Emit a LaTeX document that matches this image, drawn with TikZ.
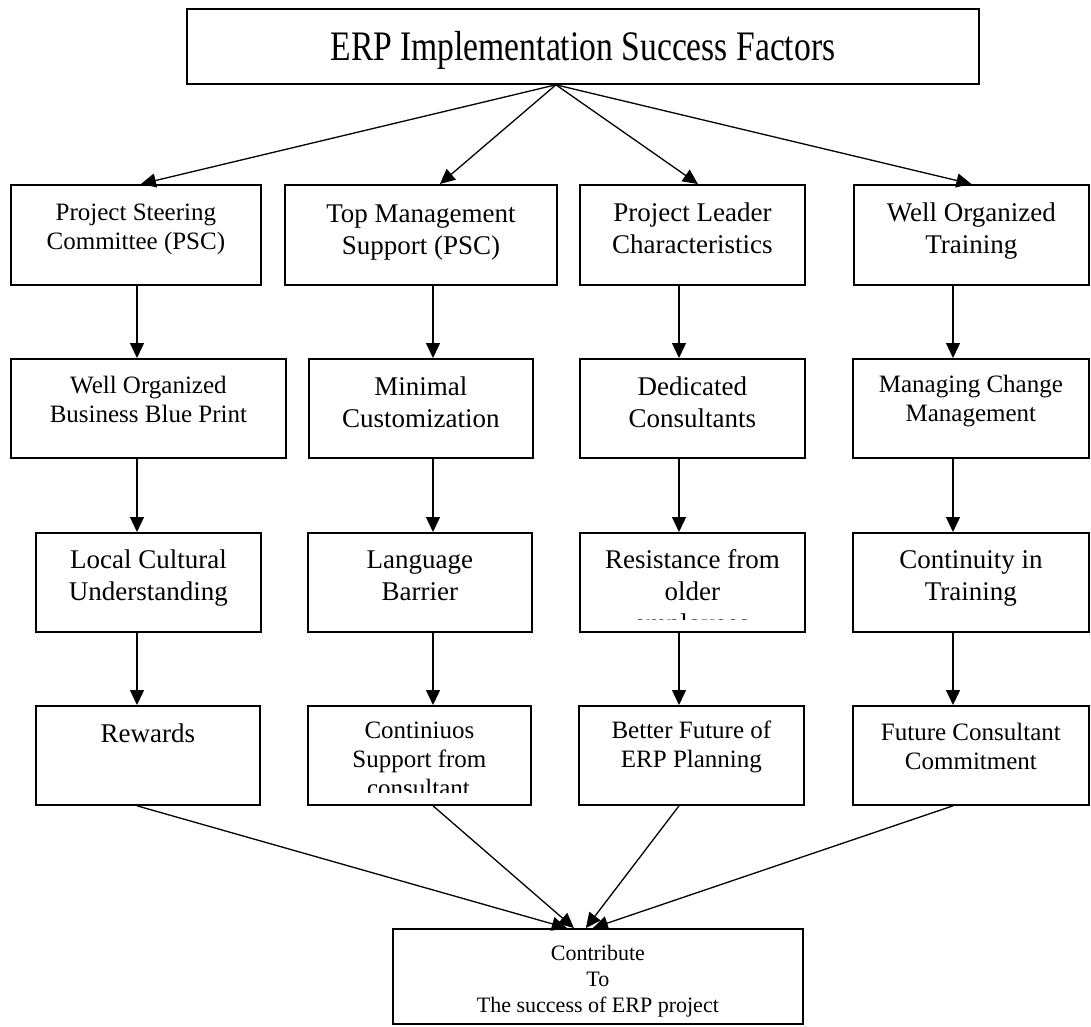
\documentclass[tikz,border=0pt]{standalone}
\usepackage{fontspec}
\setmainfont{Liberation Serif}
\newfontfamily\titlefont[FakeStretch=0.8]{Liberation Serif}
\usetikzlibrary{arrows.meta}

\begin{document}
\begin{tikzpicture}[
    x=1pt, y=-1pt,
    >={Triangle[width=14pt,length=15pt]},
    factor/.style={rectangle, draw, line width=1.8pt, inner sep=0pt, anchor=north west, align=flush center, font=\fontsize{27}{32}\selectfont},
    small/.style={font=\fontsize{25}{29}\selectfont},
    link/.style={->, line width=1.3pt}
]
    \useasboundingbox (0,0) rectangle (1091,1026);

    \node[factor, text width=792pt, text height=52pt, text depth=23pt, font=\titlefont\fontsize{42}{46}\selectfont] (title) at (186,8) {ERP Implementation Success Factors};

    % first row
    \node[factor, small, text width=250pt, text height=36pt, text depth=64pt] (steering) at (10,184) {Project Steering\\Committee (PSC)};
    \node[factor, text width=272pt, text height=38pt, text depth=62pt] (topmgmt) at (284,184) {Top Management\\Support (PSC)};
    \node[factor, text width=225pt, text height=37pt, text depth=63pt] (leader) at (579,184) {Project Leader\\Characteristics};
    \node[factor, text width=235pt, text height=37pt, text depth=63pt] (training) at (853,184) {Well Organized\\Training};

    % second row
    \node[factor, small, text width=275pt, text height=35pt, text depth=64pt] (blueprint) at (10,358) {Well Organized\\Business Blue Print};
    \node[factor, text width=224pt, text height=37pt, text depth=62pt] (custom) at (308,358) {Minimal\\Customization};
    \node[factor, text width=225pt, text height=37pt, text depth=62pt] (consultants) at (579,358) {Dedicated\\Consultants};
    \node[factor, small, text width=236pt, text height=34pt, text depth=65pt] (change) at (852,358) {Managing Change\\Management};

    % third row
    \node[factor, text width=225pt, text height=36pt, text depth=63pt] (culture) at (35,532) {Local Cultural\\Understanding};
    \node[factor, text width=224pt, text height=36pt, text depth=63pt] (language) at (307,532) {Language\\Barrier};
    \node[factor, text width=225pt, text height=36pt, text depth=63pt] (resistance) at (579,532) {Resistance from\\older};
    \node[factor, text width=236pt, text height=36pt, text depth=63pt] (continuity) at (852,532) {Continuity in\\Training};

    % fourth row
    \node[factor, text width=224pt, text height=37pt, text depth=62pt] (rewards) at (35,705) {Rewards};
    \node[factor, small, text width=223pt, text height=33pt, text depth=66pt] (support) at (307,705) {Continiuos\\Support from};
    \node[factor, small, text width=225pt, text height=33pt, text depth=66pt] (future) at (578,705) {Better Future of\\ERP Planning};
    \node[factor, small, text width=236pt, text height=35pt, text depth=64pt] (commitment) at (852,705) {Future Consultant\\Commitment};

    \node[factor, text width=410pt, text height=32pt, text depth=63pt, font=\fontsize{22}{26}\selectfont] (success) at (392,928) {Contribute\\To\\The success of ERP project};

    % cut off last lines
    \begin{scope}
        \clip (579,605) rectangle (804,619.5);
        \node[font=\fontsize{27}{32}\selectfont, anchor=base, inner sep=0pt] (employees) at (691.5,632) {employees};
    \end{scope}
    \begin{scope}
        \clip (307,775) rectangle (530,792);
        \node[small, anchor=base, inner sep=0pt] (consultant) at (418.5,796) {consultant};
    \end{scope}

    \coordinate (c1) at (137,0);
    \coordinate (c2) at (433,0);
    \coordinate (c3) at (679,0);
    \coordinate (c4) at (953,0);
    \coordinate (apex) at ([xshift=-27pt]title.south);

    \draw[link] (apex) -- ([xshift=5pt]steering.north);
    \draw[link] (apex) -- ([xshift=19pt]topmgmt.north);
    \draw[link] (apex) -- ([xshift=5.5pt]leader.north);
    \draw[link] (apex) -- (training.north);

    \foreach \a/\b/\c in {steering/blueprint/c1, blueprint/culture/c1, culture/rewards/c1,
                          topmgmt/custom/c2, custom/language/c2, language/support/c2,
                          leader/consultants/c3, consultants/resistance/c3, resistance/future/c3,
                          training/change/c4, change/continuity/c4, continuity/commitment/c4}
        \draw[link] (\a.south -| \c) -- (\b.north -| \c);

    \draw[link] (rewards.south -| c1) -- ([xshift=-31pt]success.north);
    \draw[link] (support.south -| c2) -- ([xshift=-24pt]success.north);
    \draw[link] (future.south -| c3) -- ([xshift=-12pt]success.north);
    \draw[link] (commitment.south -| c4) -- ([xshift=-5pt]success.north);
\end{tikzpicture}
\end{document}
